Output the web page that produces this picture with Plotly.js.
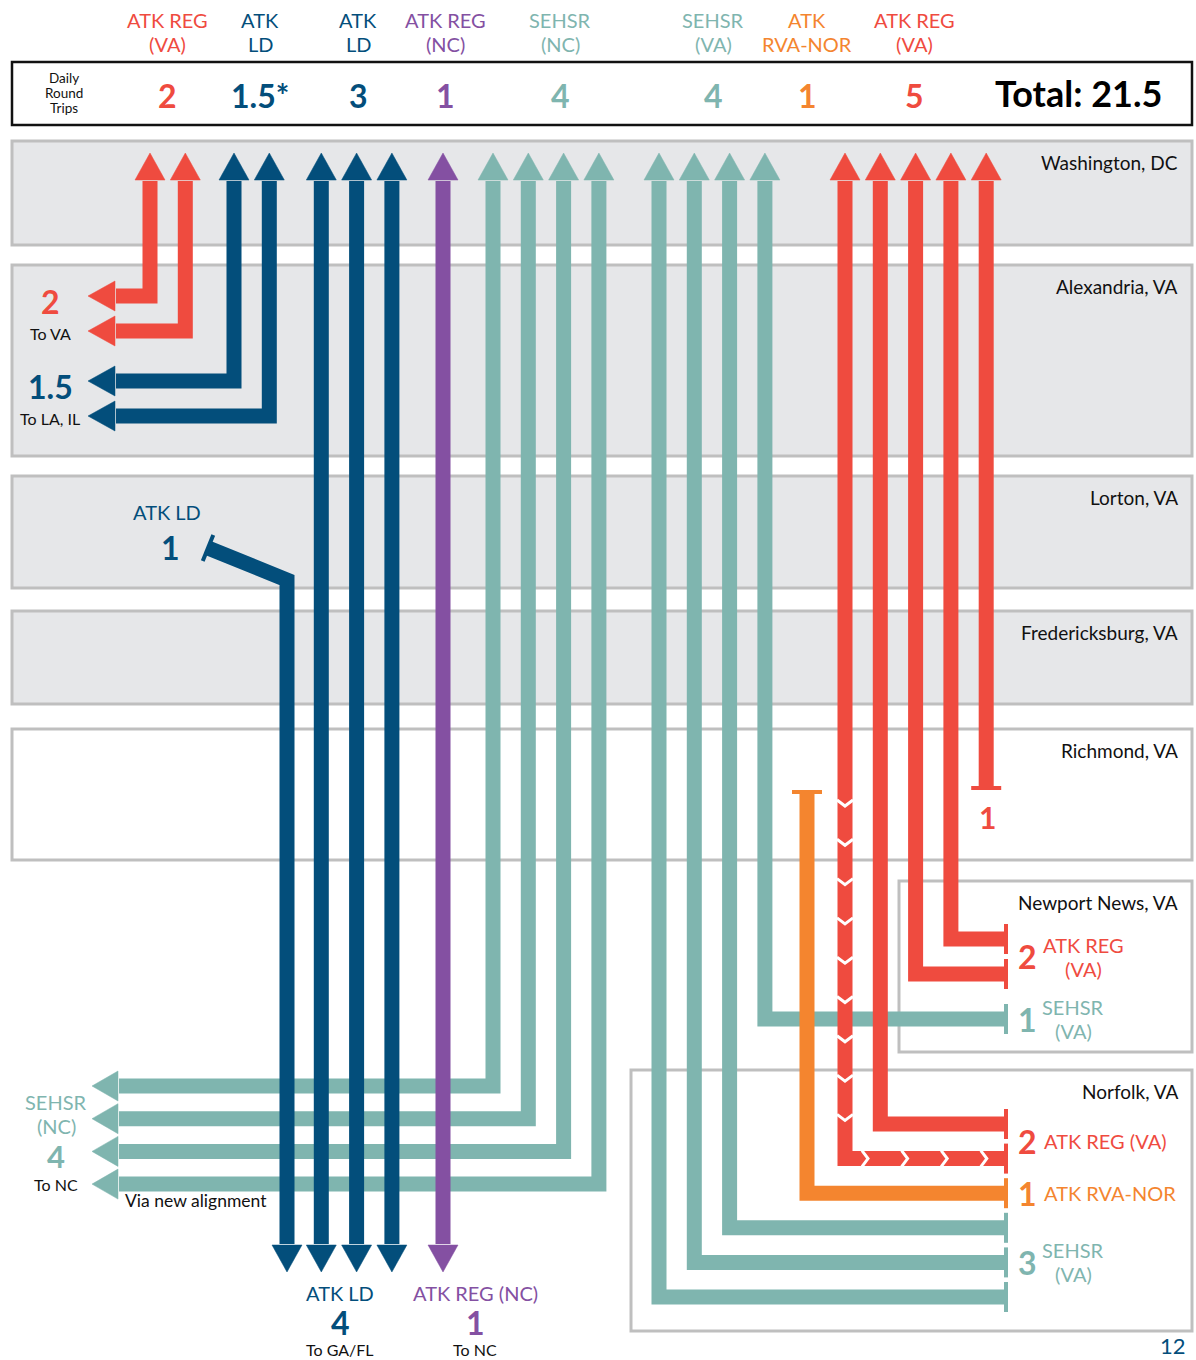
<!DOCTYPE html>
<html>
<head>
<meta charset="utf-8">
<script src="https://cdn.plot.ly/plotly-3.0.1.min.js"></script>
<style>
html,body{margin:0;padding:0;background:#fff;}
#chart{width:1196px;height:1360px;}
.scatterlayer path.js-line{stroke-linejoin:miter !important;}
</style>
</head>
<body>
<div id="chart"></div>
<script>
// ---------------- DATA ----------------
const serviceNames = ["ATK REG (VA)", "ATK LD", "ATK LD", "ATK REG (NC)", "SEHSR (NC)", "SEHSR (VA)", "ATK RVA-NOR", "ATK REG (VA)"];
const headerLine1 = ["ATK REG", "ATK", "ATK", "ATK REG", "SEHSR", "SEHSR", "ATK", "ATK REG"];
const headerLine2 = ["(VA)", "LD", "LD", "(NC)", "(NC)", "(VA)", "RVA-NOR", "(VA)"];
const dailyTrips = [2, 1.5, 3, 1, 4, 4, 1, 5];
const tripLabels = ["2", "1.5*", "3", "1", "4", "4", "1", "5"];
const serviceColorKey = ["red", "blue", "blue", "purple", "teal", "teal", "orange", "red"];
const stations = ["Washington, DC", "Alexandria, VA", "Lorton, VA", "Fredericksburg, VA", "Richmond, VA", "Newport News, VA", "Norfolk, VA"];

// one entry per drawn train path (left to right)
const laneService = [0, 0, 1, 1, 2, 2, 2, 2, 3, 4, 4, 4, 4, 5, 5, 5, 5, 6, 7, 7, 7, 7, 7];
const laneOrigin = ["Washington, DC", "Washington, DC", "Washington, DC", "Washington, DC", "Lorton, VA",
  "Washington, DC", "Washington, DC", "Washington, DC", "Washington, DC",
  "Washington, DC", "Washington, DC", "Washington, DC", "Washington, DC",
  "Washington, DC", "Washington, DC", "Washington, DC", "Washington, DC",
  "Richmond, VA", "Washington, DC", "Washington, DC", "Washington, DC", "Washington, DC", "Washington, DC"];
const laneDestination = ["Alexandria, VA", "Alexandria, VA", "Alexandria, VA", "Alexandria, VA",
  "South", "South", "South", "South", "South",
  "New alignment", "New alignment", "New alignment", "New alignment",
  "Norfolk, VA", "Norfolk, VA", "Norfolk, VA", "Newport News, VA",
  "Norfolk, VA", "Norfolk, VA", "Norfolk, VA", "Newport News, VA", "Newport News, VA", "Richmond, VA"];

// destination summary labels
const westCounts = ["2", "1.5"];
const westSubs = ["To VA", "To LA, IL"];
const westColorKey = ["red", "blue"];
const southTitles = ["ATK LD", "ATK REG (NC)"];
const southCounts = ["4", "1"];
const southSubs = ["To GA/FL", "To NC"];
const southColorKey = ["blue", "purple"];
const lortonTitle = "ATK LD";
const lortonCount = "1";
const ncWestTitle = ["SEHSR", "(NC)"];
const ncWestCount = "4";
const ncWestSub = "To NC";
const ncWestNote = "Via new alignment";
const richmondCount = "1";
const pageNumber = "12";

// ---------------- STYLE / LAYOUT ----------------
const COL = {red: "#ef4b3f", blue: "#034e7b", purple: "#8450a2", teal: "#7fb5af", orange: "#f4852f"};
const FONT = "Lato, 'Open Sans', sans-serif";
const G = {
  W: 1196, H: 1360,
  headerBox: [12, 62, 1192, 125],
  headerX: [167, 260, 358, 445, 560, 713, 807, 914],
  boxes: [[12, 141, 1192, 245], [12, 265, 1192, 456], [12, 476, 1192, 588], [12, 611, 1192, 704],
          [12, 729, 1192, 860], [899, 881, 1192, 1052], [631, 1070, 1192, 1331]],
  boxFill: ["#e6e7e9", "#e6e7e9", "#e6e7e9", "#e6e7e9", "#ffffff", "#ffffff", "#ffffff"],
  groupStartX: [150, 234, 286, 443, 493, 659, 807, 845],
  laneGap: 35.3,
  lw: 15,
  topTip: 153, topBase: 180, botBase: 1245, botTip: 1272, headHalf: 15,
  westTip: 88, westBase: 115, ncTip: 92, ncBase: 118,
  alexTurn0: 296, alexStep: 35, alexGroupGap: 15,
  ncTurn0: 1086, ncStep: 32.7,
  nnSlot0: 939, nnStep: 35, nnGroupGap: 10,
  norSlot0: 1124, norStep: 34.6,
  capX: 1006, capHalf: 15, capW: 4,
  richEndY: 788, richStartY: 792, startCapHalf: 15,
  lortonCap: [208, 548], lortonBend: [287, 580],
  chevronLane: 18, chevronStartY: 805, chevronStep: 39.3
};

const traces = [];
function poly(pts, color, width) {
  traces.push({type: "scatter", mode: "lines", x: pts.map(p => p[0]), y: pts.map(p => p[1]),
    line: {color: color, width: width}, hoverinfo: "skip", showlegend: false});
}
function tri(pts, color) {
  const p = pts.concat([pts[0]]);
  traces.push({type: "scatter", mode: "lines", fill: "toself", fillcolor: color,
    x: p.map(q => q[0]), y: p.map(q => q[1]), line: {color: color, width: 0.5},
    hoverinfo: "skip", showlegend: false});
}

// lane x positions
const laneX = [];
laneService.forEach((s, k) => {
  const idx = laneService.slice(0, k).filter(v => v === s).length;
  laneX.push(G.groupStartX[s] + idx * G.laneGap);
});

// turn positions per destination
const turnY = new Array(laneService.length).fill(null);
function assignSlots(dest, order, y0, step, gap) {
  const ks = laneDestination.map((d, k) => k).filter(k => laneDestination[k] === dest);
  if (order === "desc") ks.sort((a, b) => laneX[b] - laneX[a]);
  let prev = null, changes = 0;
  ks.forEach((k, i) => {
    if (prev !== null && laneService[k] !== prev) changes++;
    prev = laneService[k];
    turnY[k] = y0 + i * step + changes * gap;
  });
}
assignSlots("Alexandria, VA", "asc", G.alexTurn0, G.alexStep, G.alexGroupGap);
assignSlots("New alignment", "asc", G.ncTurn0, G.ncStep, 0);
assignSlots("Newport News, VA", "desc", G.nnSlot0, G.nnStep, G.nnGroupGap);
assignSlots("Norfolk, VA", "desc", G.norSlot0, G.norStep, 0);

// draw order: teal paths first (they pass under the others)
const order = laneService.map((s, k) => k).sort((a, b) => {
  const ta = serviceColorKey[laneService[a]] === "teal" ? 0 : 1;
  const tb = serviceColorKey[laneService[b]] === "teal" ? 0 : 1;
  return ta - tb || a - b;
});

order.forEach(k => {
  const x = laneX[k];
  const c = COL[serviceColorKey[laneService[k]]];
  const o = laneOrigin[k], d = laneDestination[k];
  const pts = [];
  const after = [];
  if (o === "Washington, DC") {
    pts.push([x, G.topBase + 1]);
    after.push(() => tri([[x - G.headHalf, G.topBase], [x + G.headHalf, G.topBase], [x, G.topTip]], c));
  } else if (o === "Lorton, VA") {
    const a = G.lortonCap, b = G.lortonBend;
    pts.push(a.slice(), b.slice());
    const dx = b[0] - a[0], dy = b[1] - a[1], L = Math.hypot(dx, dy);
    const px = -dy / L * 14, py = dx / L * 14;
    after.push(() => poly([[a[0] - px, a[1] - py], [a[0] + px, a[1] + py]], c, G.capW));
  } else if (o === "Richmond, VA") {
    pts.push([x, G.richStartY]);
    after.push(() => poly([[x - G.startCapHalf, G.richStartY], [x + G.startCapHalf, G.richStartY]], c, G.capW));
  }
  if (d === "Alexandria, VA") {
    const y = turnY[k];
    pts.push([x, y], [G.westBase + 1, y]);
    after.push(() => tri([[G.westBase, y - G.headHalf], [G.westBase, y + G.headHalf], [G.westTip, y]], c));
  } else if (d === "South") {
    pts.push([pts[pts.length - 1][0], G.botBase - 1]);
    const xx = pts[pts.length - 1][0];
    after.push(() => tri([[xx - G.headHalf, G.botBase], [xx + G.headHalf, G.botBase], [xx, G.botTip]], c));
  } else if (d === "New alignment") {
    const y = turnY[k];
    pts.push([x, y], [G.ncBase + 1, y]);
    after.push(() => tri([[G.ncBase, y - G.headHalf], [G.ncBase, y + G.headHalf], [G.ncTip, y]], c));
  } else if (d === "Newport News, VA" || d === "Norfolk, VA") {
    const y = turnY[k];
    pts.push([x, y], [G.capX, y]);
    after.push(() => poly([[G.capX, y - G.capHalf], [G.capX, y + G.capHalf]], c, G.capW));
  } else if (d === "Richmond, VA") {
    pts.push([x, G.richEndY]);
    after.push(() => poly([[x - G.startCapHalf, G.richEndY], [x + G.startCapHalf, G.richEndY]], c, G.capW));
  }
  poly(pts, c, G.lw);
  after.forEach(f => f());
  if (k === G.chevronLane) {
    const y = turnY[k];
    for (let cy = G.chevronStartY; cy < y - 25; cy += G.chevronStep) {
      poly([[x - 8, cy - 5], [x, cy + 1], [x + 8, cy - 5]], "#ffffff", 3);
    }
    for (let cx = x + 22; cx < G.capX - 8; cx += G.chevronStep + 0.3) {
      poly([[cx - 5, y - 8], [cx + 1, y], [cx - 5, y + 8]], "#ffffff", 3);
    }
  }
});

// ---------------- shapes ----------------
const shapes = [];
G.boxes.forEach((bx, i) => {
  shapes.push({type: "rect", xref: "x", yref: "y", x0: bx[0], y0: bx[1], x1: bx[2], y1: bx[3],
    line: {color: "#bfbfbf", width: 3}, fillcolor: G.boxFill[i], layer: "below"});
});
shapes.push({type: "rect", xref: "x", yref: "y", x0: G.headerBox[0], y0: G.headerBox[1], x1: G.headerBox[2], y1: G.headerBox[3],
  line: {color: "#111111", width: 2.5}, fillcolor: "#ffffff", layer: "below"});

// ---------------- annotations ----------------
const ann = [];
function txt(x, y, text, size, color, opt) {
  opt = opt || {};
  ann.push({xref: "x", yref: "y", x: x, y: y, text: text, showarrow: false,
    xanchor: opt.xa || "center", yanchor: "middle", align: opt.align || "center", borderpad: 0,
    font: {family: FONT, size: size, color: color, weight: opt.bold ? 700 : 400}});
}
const b = s => "<b>" + s + "</b>";

// header
serviceNames.forEach((s, i) => {
  const c = COL[serviceColorKey[i]];
  txt(G.headerX[i], 20, headerLine1[i], 20, c);
  txt(G.headerX[i], 44, headerLine2[i], 20, c);
  txt(G.headerX[i], 95, b(tripLabels[i]), 32, c, {bold: true});
});
const total = dailyTrips.reduce((a, v) => a + v, 0);
txt(1078, 93, b("Total: " + total), 36, "#000000", {bold: true});
txt(64, 78, "Daily", 13.5, "#111");
txt(64, 93, "Round", 13.5, "#111");
txt(64, 108, "Trips", 13.5, "#111");

// station names
stations.forEach((s, i) => {
  txt(1179, G.boxes[i][1] + 21, s, 19, "#111", {xa: "right"});
});

// west labels at Alexandria
const alexLanes = laneDestination.map((d, k) => k).filter(k => laneDestination[k] === "Alexandria, VA");
westCounts.forEach((cnt, i) => {
  const ks = alexLanes.filter(k => serviceColorKey[laneService[k]] === westColorKey[i]);
  const c = COL[westColorKey[i]];
  txt(50, turnY[ks[0]] + 5, b(cnt), 32, c, {bold: true});
  txt(50, turnY[ks[ks.length - 1]] + 2, westSubs[i], 16, "#111");
});

// Lorton
txt(167, 512, lortonTitle, 20, COL.blue);
txt(170, 547, b(lortonCount), 32, COL.blue, {bold: true});

// NC via new alignment
txt(56, 1102, ncWestTitle[0], 20, COL.teal);
txt(56, 1126, ncWestTitle[1], 20, COL.teal);
txt(56, 1156, b(ncWestCount), 31, COL.teal, {bold: true});
txt(56, 1184, ncWestSub, 16, "#111");
txt(124, 1200, ncWestNote, 17.5, "#111", {xa: "left"});

// south labels
const southX = [340, 475];
southTitles.forEach((t, i) => {
  const c = COL[southColorKey[i]];
  txt(southX[i], 1293, t, 20, c);
  txt(southX[i], 1322, b(southCounts[i]), 32, c, {bold: true});
  txt(southX[i], 1349, southSubs[i], 16, "#111");
});

// Richmond terminating
txt(987, 817, b(richmondCount), 30, COL.red, {bold: true});

// Newport News / Norfolk labels (counts from lanes)
["Newport News, VA", "Norfolk, VA"].forEach(dest => {
  const ks = laneDestination.map((d, k) => k).filter(k => laneDestination[k] === dest);
  const svcs = [];
  ks.forEach(k => { if (!svcs.includes(laneService[k])) svcs.push(laneService[k]); });
  svcs.forEach(s => {
    const kk = ks.filter(k => laneService[k] === s);
    const yc = kk.reduce((a, k) => a + turnY[k], 0) / kk.length;
    const c = COL[serviceColorKey[s]];
    txt(1027, yc, b(String(kk.length)), 32, c, {bold: true});
    const twoLine = dest === "Newport News, VA" || serviceColorKey[s] === "teal";
    if (twoLine) {
      const w1 = headerLine1[s], w2 = headerLine2[s];
      const cx = w1 === "SEHSR" ? 1073 : 1083;
      txt(cx, yc - 12, w1, 20, c);
      txt(cx, yc + 12, w2, 20, c);
    } else {
      txt(1043, yc, serviceNames[s], 20, c, {xa: "left"});
    }
  });
});

txt(1187, 1345, pageNumber, 22, COL.blue, {xa: "right"});

const layout = {
  width: G.W, height: G.H,
  margin: {l: 0, r: 0, t: 0, b: 0, pad: 0},
  paper_bgcolor: "#ffffff", plot_bgcolor: "#ffffff",
  xaxis: {range: [0, G.W], visible: false, fixedrange: true},
  yaxis: {range: [G.H, 0], visible: false, fixedrange: true},
  showlegend: false,
  shapes: shapes,
  annotations: ann,
  hovermode: false
};
Plotly.newPlot("chart", traces, layout, {staticPlot: true, displayModeBar: false});
</script>
</body>
</html>
